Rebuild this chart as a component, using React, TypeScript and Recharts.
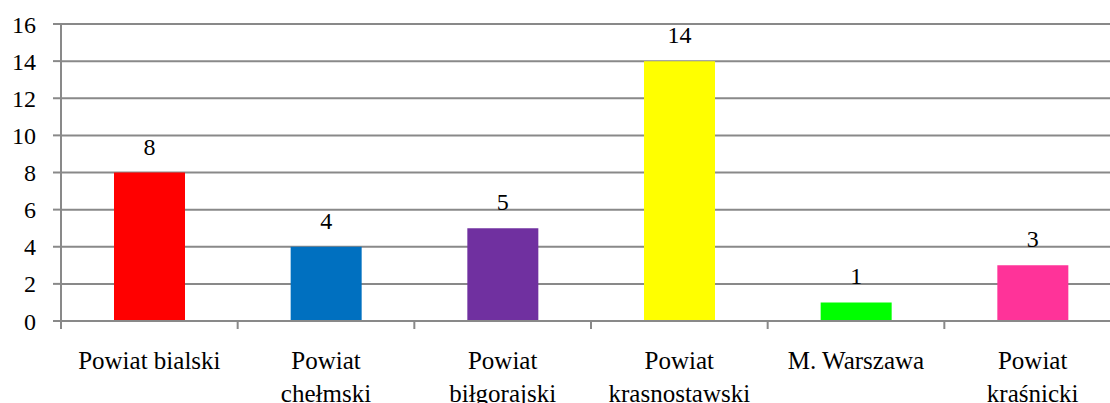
import React, { useEffect, useRef } from 'react';
import { BarChart, Bar, XAxis, YAxis, CartesianGrid, Cell, LabelList } from 'recharts';

const categories = [
  'Powiat bialski',
  'Powiat chełmski',
  'Powiat biłgorajski',
  'Powiat krasnostawski',
  'M. Warszawa',
  'Powiat kraśnicki',
];
const counts = [8, 4, 5, 14, 1, 3];
const barColors = ['#FF0000', '#0070C0', '#7030A0', '#FFFF00', '#00FF00', '#FF3399'];
const yTicks = [0, 2, 4, 6, 8, 10, 12, 14, 16];

const data = categories.map((name, i) => ({ name, value: counts[i] }));

const CHART_W = 1125;
const CHART_H = 403;
const Y_AXIS_W = 61;
const MARGIN_R = 4;
const X_AXIS_H = 82;
const PLOT_BOTTOM = CHART_H - X_AXIS_H;
const BAND = (CHART_W - Y_AXIS_W - MARGIN_R) / categories.length;
const FONT = 'Liberation Serif';
const AXIS_GRAY = '#898989';

// wraps long names at the first space, like the original does
const splitLabel = (s: string) => {
  if (s.length <= 14) return [s];
  const i = s.indexOf(' ');
  return [s.slice(0, i), s.slice(i + 1)];
};

const CategoryTick = (props: any) => {
  const { x, payload } = props;
  const lines = splitLabel(payload.value);
  const left = x - BAND / 2;
  return (
    <g>
      <line x1={left} x2={left} y1={PLOT_BOTTOM} y2={PLOT_BOTTOM + 8} stroke={AXIS_GRAY} strokeWidth={2} />
      <text x={x} y={PLOT_BOTTOM + 48} textAnchor="middle" fontFamily={FONT} fontSize={25} fill="#000">
        {lines.map((l, i) => (
          <tspan key={i} x={x} dy={i === 0 ? 0 : 33}>{l}</tspan>
        ))}
      </text>
    </g>
  );
};

const App: React.FC = () => {
  const boxRef = useRef<HTMLDivElement>(null);

  // force the serif face on every svg text, something keeps overriding it
  useEffect(() => {
    const box = boxRef.current;
    if (!box) return;
    const apply = () => {
      box.querySelectorAll('text, tspan').forEach((el) => {
        const s = (el as SVGElement).style;
        if (s.getPropertyValue('font-family') !== FONT) s.setProperty('font-family', FONT, 'important');
      });
    };
    apply();
    const obs = new MutationObserver(apply);
    obs.observe(box, { childList: true, subtree: true, attributes: true });
    const t = setTimeout(apply, 50);
    return () => {
      obs.disconnect();
      clearTimeout(t);
    };
  }, []);

  return (
    <div ref={boxRef} className="chart-box" style={{ position: 'absolute', left: 0, top: 0, width: 1110, height: 403, overflow: 'hidden', background: '#fff' }}>
      <style>{`html body div.chart-box svg text, html body div.chart-box svg tspan { font-family: 'Liberation Serif', serif !important; }`}</style>
      <BarChart
        width={CHART_W}
        height={CHART_H}
        data={data}
        margin={{ top: 24, right: MARGIN_R, bottom: 0, left: 0 }}
        barCategoryGap="30%"
      >
        <CartesianGrid vertical={false} stroke={AXIS_GRAY} strokeWidth={2} />
        <XAxis
          dataKey="name"
          height={X_AXIS_H}
          interval={0}
          tickLine={false}
          axisLine={{ stroke: AXIS_GRAY, strokeWidth: 2 }}
          tick={<CategoryTick />}
        />
        <YAxis
          width={Y_AXIS_W}
          domain={[0, 16]}
          ticks={yTicks}
          interval={0}
          tickSize={8}
          tickMargin={17}
          tickLine={{ stroke: AXIS_GRAY, strokeWidth: 2 }}
          axisLine={{ stroke: AXIS_GRAY, strokeWidth: 2 }}
          tick={{ fill: '#000', fontSize: 24, fontFamily: FONT }}
        />
        <Bar dataKey="value" isAnimationActive={false}>
          {data.map((d, i) => (
            <Cell key={d.name} fill={barColors[i]} />
          ))}
          <LabelList dataKey="value" position="top" offset={18} fill="#000" fontSize={24} fontFamily={FONT} />
        </Bar>
      </BarChart>
    </div>
  );
};

export default App;
